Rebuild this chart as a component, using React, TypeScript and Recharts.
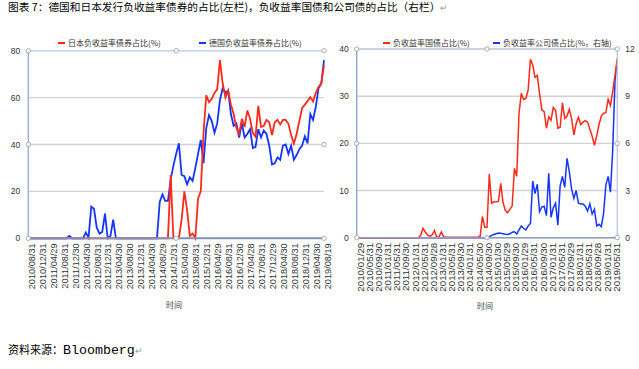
import React from "react";
import {
  LineChart,
  Line,
  XAxis,
  YAxis,
  CartesianGrid,
  Legend,
  ReferenceLine,
  ReferenceDot,
} from "recharts";

// x-axis labels actually printed (every 4th month)
const LEFT_TICKS = [
  "2010/08/31", "2010/12/31", "2011/04/29", "2011/08/31", "2011/12/30", "2012/04/30", "2012/08/31",
  "2012/12/31", "2013/04/30", "2013/08/30", "2013/12/31", "2014/04/30", "2014/08/29", "2014/12/31",
  "2015/04/30", "2015/08/31", "2015/12/31", "2016/04/29", "2016/08/31", "2016/12/30", "2017/04/28",
  "2017/08/31", "2017/12/29", "2018/04/30", "2018/08/31", "2018/12/31", "2019/04/30", "2019/08/19",
];
const RIGHT_TICKS = [
  "2010/01/29", "2010/05/31", "2010/09/30", "2011/01/31", "2011/05/31", "2011/09/30", "2012/01/31",
  "2012/05/31", "2012/09/28", "2013/01/31", "2013/05/31", "2013/09/30", "2014/01/31", "2014/05/30",
  "2014/09/30", "2015/01/30", "2015/05/29", "2015/09/30", "2016/01/29", "2016/05/31", "2016/09/30",
  "2017/01/31", "2017/05/31", "2017/09/29", "2018/01/31", "2018/05/31", "2018/09/28", "2019/01/31",
  "2019/05/31",
];

// left panel, monthly 2010/08 .. 2019/08 (%)
const JAPAN = [
  0, 0, 0, 0, 0, 0, 0, 0, 0, 0,
  0, 0, 0, 0, 0, 0, 0, 0, 0, 0,
  0, 0, 0, 0, 0, 0, 0, 0, 0, 0,
  0, 0, 0, 0, 0, 0, 0, 0, 0, 0,
  0, 0, 0, 0, 0, 0, 0, 0, 0, 0,
  0, 0, 27, 0, 0, 0, 8, 20, 12, 1,
  2, 0, 17, 20, 45, 61, 58, 59.5, 62, 63.5,
  76, 66, 60, 63, 57, 53, 47, 44.5, 51, 47.5,
  54.5, 51, 45, 43.3, 56.5, 47.5, 48, 50.5, 49.5, 44,
  49.5, 50.5, 48.5, 50.5, 50.5, 48.8, 44, 40.4, 44.5, 50,
  55.5, 57, 58.5, 60.2, 58.3, 62, 64.5, 66, 73.7,
];
const GERMANY = [
  0, 0, 0, 0, 0, 0, 0, 0, 0, 0,
  0, 0, 0, 0, 0, 1, 0, 0, 0, 0,
  0, 2.5, 0.3, 13.5, 12.6, 4.5, 2, 2.7, 10.5, 0,
  1, 8, 0, 0, 0, 0, 0, 0, 0, 0,
  0, 0, 0, 0, 0, 0, 0, 0, 15.5, 18.7,
  16, 16, 25, 31, 36, 40.5, 27, 26.5, 23, 26,
  24.5, 30, 36, 42, 32, 47, 52.5, 50, 45, 49,
  59, 64, 62, 63, 53, 48, 49, 43, 49, 43,
  44.5, 46.5, 38.5, 39, 46.5, 43, 46, 44.5, 39.5, 31.5,
  32, 34.5, 33.5, 39.5, 40, 36, 39.5, 33.5, 35.5, 38,
  39.5, 43.5, 40.5, 53, 50.5, 56, 64, 66, 76,
];

// right panel, monthly 2010/01 .. 2019/07
const GOVT = [
  0, 0, 0, 0, 0, 0, 0, 0, 0, 0,
  0, 0, 0, 0, 0, 0, 0, 0, 0, 0,
  0, 0, 0, 0, 0, 0, 0, 0, 0.5, 2,
  1.2, 0.6, 0.3, 0.6, 1.5, 0.1, 0.2, 1.2, 0.2, 0.1,
  0.1, 0.1, 0.1, 0.1, 0.1, 0.1, 0.1, 0.1, 0.1, 0.1,
  0.1, 0.1, 0.1, 0.1, 0.3, 4.5, 2.2, 2.2, 13.5, 7.3,
  7.6, 7.6, 7.7, 11.5, 7.5, 5.8, 5.3, 6, 6.7, 14.7,
  13, 26.3, 30.6, 29.3, 29.5, 31.3, 37.8, 36.6, 34, 34.4,
  30.5, 27.1, 26.7, 23.2, 25.6, 24.9, 27.6, 27, 23.2, 23.4,
  28.6, 25.3, 25.8, 27.2, 25.3, 21.8, 24.2, 25.5, 24, 24.5,
  24.8, 24.5, 23, 21.5, 19.6, 21.6, 24, 25.8, 26.4, 26.5,
  29.3, 28, 31, 34.5, 38,
];
const CORP = [
  0, 0, 0, 0, 0, 0, 0, 0, 0, 0,
  0, 0, 0, 0, 0, 0, 0, 0, 0, 0,
  0, 0, 0, 0, 0, 0, 0, 0, 0, 0,
  0, 0, 0, 0, 0, 0, 0, 0, 0, 0,
  0, 0, 0, 0, 0, 0, 0, 0, 0, 0,
  0, 0, 0, 0, 0, 0, 0, 0, 0.05, 0.15,
  0.2, 0.25, 0.3, 0.28, 0.25, 0.22, 0.2, 0.25, 0.35, 0.38,
  0.23, 0.5, 0.74, 0.6, 0.5, 0.74, 0.9, 3.6, 2.8, 3.4,
  1.65, 1.95, 2, 1.4, 4.1, 1.3, 1.9, 2.2, 0.8, 3.3,
  3.9, 3.2, 5.05, 4.2, 3.1, 2.5, 3, 2.2, 2.15, 2.15,
  2, 1.7, 2.15, 1.5, 1.8, 0.75, 0.85, 0.7, 1.55, 3.35,
  3.9, 2.9, 5.6, 10, 11.3,
];

const RED = "#ff2a1a";
const BLUE = "#1535ff";
const FONT = "'Liberation Sans', Arial, sans-serif";
const CJK = "'Noto Sans CJK SC', 'Noto Sans', sans-serif";

function monthKey(year: number, month: number, i: number) {
  const t = year * 12 + (month - 1) + i;
  return `${Math.floor(t / 12)}/${String((t % 12) + 1).padStart(2, "0")}`;
}

const leftData = JAPAN.map((v, i) => ({
  date: i % 4 === 0 ? LEFT_TICKS[i / 4] : monthKey(2010, 8, i),
  japan: v,
  germany: GERMANY[i],
}));

const rightData = GOVT.map((v, i) => ({
  date: i % 4 === 0 ? RIGHT_TICKS[i / 4] : monthKey(2010, 1, i),
  govt: v,
  corp: CORP[i],
}));

type LegendItem = { x: number; label: string; color: string };

const makeLegend = (items: LegendItem[]) => () => (
  <div style={{ position: "relative", height: 14 }}>
    {items.map((it) => (
      <div
        key={it.label}
        style={{
          position: "absolute",
          left: it.x,
          top: 0,
          display: "flex",
          alignItems: "center",
          whiteSpace: "nowrap",
          fontSize: 8,
          lineHeight: "12px",
          fontFamily: CJK,
          color: "#333",
        }}
      >
        <span style={{ display: "inline-block", width: 7, height: 2, background: it.color, marginRight: 3 }} />
        {it.label}
      </div>
    ))}
  </div>
);

const xTick = (size: number) => ({
  fontSize: size,
  fill: "#333",
  angle: -90,
  textAnchor: "end",
  verticalAnchor: "middle",
});

const handle = { r: 2.2, fill: "#fff", stroke: "#9a9a9a", strokeWidth: 0.8, ifOverflow: "visible" as const };

function LeftChart() {
  return (
    <LineChart
      width={338}
      height={320}
      data={leftData}
      margin={{ top: 50.7, right: 14, bottom: 21.7, left: 0 }}
      style={{ fontFamily: FONT }}
    >
      <CartesianGrid vertical={false} stroke="#d2d2d2" strokeWidth={1.4} />
      <XAxis
        dataKey="date"
        interval={3}
        height={60}
        tickLine={false}
        tickSize={0}
        tickMargin={5}
        axisLine={{ stroke: "#8493b4", strokeWidth: 2 }}
        tick={xTick(9.2)}
      />
      <YAxis
        width={28.3}
        domain={[0, 80]}
        ticks={[0, 20, 40, 60, 80]}
        interval={0}
        tickLine={false}
        axisLine={{ stroke: "#a3b2d2", strokeWidth: 1.5 }}
        tick={{ fontSize: 8.5, fill: "#333" }}
      />
      <YAxis
        yAxisId="edge"
        orientation="right"
        width={0}
        domain={[0, 80]}
        tick={false}
        tickLine={false}
        axisLine={{ stroke: "#c6d3ec", strokeWidth: 1.2 }}
      />
      <ReferenceLine y={80} stroke="#c6d3ec" strokeWidth={1.2} />
      <Legend
        verticalAlign="middle"
        content={makeLegend([
          { x: 58, label: "日本负收益率债券占比(%)", color: RED },
          { x: 199, label: "德国负收益率债券占比(%)", color: BLUE },
        ])}
        wrapperStyle={{ top: 37, left: 0, width: 330, height: 14 }}
      />
      <Line dataKey="germany" stroke={BLUE} strokeWidth={1.8} dot={false} isAnimationActive={false} />
      <Line dataKey="japan" stroke={RED} strokeWidth={1.8} dot={false} isAnimationActive={false} />
      <ReferenceDot x={LEFT_TICKS[0]} y={80} {...handle} />
      <ReferenceDot x={leftData[54].date} y={80} {...handle} />
      <ReferenceDot x={LEFT_TICKS[27]} y={80} {...handle} />
      <ReferenceDot x={LEFT_TICKS[0]} y={40} {...handle} />
      <ReferenceDot x={LEFT_TICKS[27]} y={40} {...handle} />
      <ReferenceDot x={LEFT_TICKS[0]} y={0} {...handle} />
      <ReferenceDot x={leftData[54].date} y={0} {...handle} />
      <ReferenceDot x={LEFT_TICKS[27]} y={0} {...handle} />
    </LineChart>
  );
}

function RightChart() {
  const last = rightData[rightData.length - 1].date;
  return (
    <LineChart
      width={309}
      height={320}
      data={rightData}
      margin={{ top: 49, right: 0, bottom: 22.3, left: 0 }}
      style={{ fontFamily: FONT }}
    >
      <CartesianGrid vertical={false} yAxisId="l" stroke="#d2d2d2" strokeWidth={1.4} />
      <XAxis
        dataKey="date"
        interval={3}
        height={60}
        tickLine={false}
        tickSize={0}
        tickMargin={5}
        axisLine={{ stroke: "#8e9dc0", strokeWidth: 1.5 }}
        tick={xTick(9.8)}
      />
      <YAxis
        yAxisId="l"
        width={26.7}
        domain={[0, 40]}
        ticks={[0, 10, 20, 30, 40]}
        interval={0}
        tickLine={false}
        axisLine={{ stroke: "#8d9fcb", strokeWidth: 1.3 }}
        tick={{ fontSize: 8.5, fill: "#333" }}
      />
      <YAxis
        yAxisId="r"
        orientation="right"
        width={21.7}
        domain={[0, 12]}
        ticks={[0, 3, 6, 9, 12]}
        interval={0}
        tickLine={false}
        axisLine={{ stroke: "#b9c7e5", strokeWidth: 1.3 }}
        tick={{ fontSize: 8.5, fill: "#333" }}
      />
      <ReferenceLine yAxisId="l" y={40} stroke="#b9c7e5" strokeWidth={1.2} />
      <Legend
        verticalAlign="middle"
        content={makeLegend([
          { x: 53, label: "负收益率国债占比(%)", color: RED },
          { x: 163, label: "负收益率公司债占比(%，右轴)", color: BLUE },
        ])}
        wrapperStyle={{ top: 37, left: 0, width: 309, height: 14 }}
      />
      <Line yAxisId="r" dataKey="corp" stroke={BLUE} strokeWidth={1.5} dot={false} isAnimationActive={false} />
      <Line yAxisId="l" dataKey="govt" stroke={RED} strokeWidth={1.5} dot={false} isAnimationActive={false} />
      <ReferenceDot yAxisId="l" x={RIGHT_TICKS[0]} y={40} {...handle} />
      <ReferenceDot yAxisId="l" x={rightData[57].date} y={40} {...handle} />
      <ReferenceDot yAxisId="l" x={last} y={40} {...handle} />
      <ReferenceDot yAxisId="l" x={RIGHT_TICKS[0]} y={20} {...handle} />
      <ReferenceDot yAxisId="l" x={last} y={20} {...handle} />
      <ReferenceDot yAxisId="l" x={RIGHT_TICKS[0]} y={0} {...handle} />
      <ReferenceDot yAxisId="l" x={rightData[57].date} y={0} {...handle} />
      <ReferenceDot yAxisId="l" x={last} y={0} {...handle} />
    </LineChart>
  );
}

export default function App() {
  return (
    <div
      style={{
        position: "absolute",
        left: 0,
        top: 0,
        width: 639,
        height: 369,
        background: "#fff",
        overflow: "hidden",
      }}
    >
      <div
        style={{
          position: "absolute",
          left: 8,
          top: 0,
          fontSize: 10.7,
          lineHeight: "14px",
          fontFamily: CJK,
          color: "#000",
          whiteSpace: "nowrap",
        }}
      >
        图表 7：德国和日本发行负收益率债券的占比(左栏)，负收益率国债和公司债的占比（右栏）
        <span style={{ color: "#999", fontSize: 9 }}>↵</span>
      </div>

      <div style={{ position: "absolute", left: 0, top: 0 }}>
        <LeftChart />
      </div>
      <div style={{ position: "absolute", left: 330, top: 0 }}>
        <RightChart />
      </div>

      <div style={{ position: "absolute", left: 166, top: 299, fontSize: 8, fontFamily: CJK, color: "#444" }}>
        时间
      </div>
      <div style={{ position: "absolute", left: 477, top: 300, fontSize: 8, fontFamily: CJK, color: "#444" }}>
        时间
      </div>

      <div
        style={{
          position: "absolute",
          left: 8,
          top: 341,
          fontSize: 11,
          lineHeight: "16px",
          fontFamily: CJK,
          color: "#000",
          whiteSpace: "nowrap",
        }}
      >
        资料来源：
        <span style={{ fontFamily: "'Liberation Mono', 'DejaVu Sans Mono', monospace", fontSize: 13.3 }}>
          Bloomberg
        </span>
        <span style={{ color: "#999", fontSize: 9 }}>↵</span>
      </div>
    </div>
  );
}
